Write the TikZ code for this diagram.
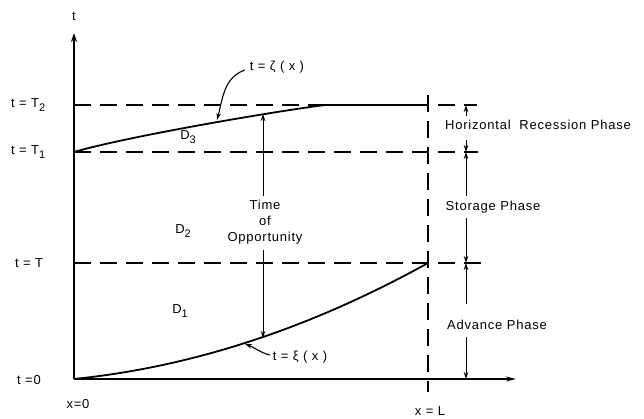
\documentclass[tikz,border=0pt]{standalone}
\usepackage{fontspec}
\setmainfont{Liberation Sans}[LetterSpace=6]
\usetikzlibrary{arrows.meta}
\newcommand{\sbs}[1]{\raisebox{-0.6ex}{\fontsize{11}{13}\selectfont #1}}
\begin{document}
\begin{tikzpicture}[x=1pt,y=-1pt,
  lab/.style={font=\fontsize{13}{16}\selectfont, inner sep=1pt},
  axisline/.style={line width=2.4pt},
  dashline/.style={line width=1.6pt, dash pattern=on 17pt off 9pt},
  curve/.style={line width=1.8pt},
  thinarrow/.style={line width=0.9pt, -{Stealth[length=7pt,width=4.5pt]}},
  tip/.style={-{Stealth[length=7pt,width=4.5pt]}}]
\useasboundingbox (0,0) rectangle (644,418);
% key coordinates
\coordinate (O) at (74,379);
\coordinate (ytop) at (74,33);
\coordinate (xend) at (516,379);
\coordinate (T2a) at (74,105);
\coordinate (T2b) at (477,105);
\coordinate (T1a) at (74,152);
\coordinate (T1b) at (478,152);
\coordinate (Ta) at (74,263);
\coordinate (Tb) at (486,263);
\coordinate (Ltop) at (428,95);
\coordinate (Lbot) at (428,392);
\coordinate (Z1) at (325,105);
\coordinate (ZL) at (428,105);
\coordinate (XL) at (428,263);
% dashed lines
\draw[dashline] (T2a) -- (T2b);
\draw[dashline] (T1a) -- (T1b);
\draw[dashline] (Ta) -- (Tb);
\draw[dashline] (Ltop) -- (Lbot);
% axes
\draw[axisline, -{Stealth[length=9pt,width=6pt]}] (O) -- (ytop);
\draw[line width=1.6pt, -{Stealth[length=10pt,width=5pt]}] (O) -- (xend);
% curves
\draw[curve] (T1a) .. controls (125,137) and (270,112) .. (Z1) -- (ZL);
\draw[curve] (O) .. controls (192,367) and (310,328.4) .. (XL);
% axis labels
\node[lab] (tlab) at (74,16) {t};
\node[lab, anchor=west] (lT2) at (10,105) {t = T\sbs{2}};
\node[lab, anchor=west] (lT1) at (10,152) {t = T\sbs{1}};
\node[lab, anchor=west] (lT) at (14,263) {t = T};
\node[lab, anchor=west] (l0) at (16,380) {t =0};
\node[lab] (x0) at (78,404) {x=0};
\node[lab] (xL) at (430,411) {x = L};
% regions
\node[lab] (D3) at (188,137) {D\sbs{3}};
\node[lab] (D2) at (183,231) {D\sbs{2}};
\node[lab] (D1) at (180,311) {D\sbs{1}};
% curve labels
\node[lab] (zeta) at (277,67) {t = ζ ( x )};
\coordinate (zetapt) at (217,120);
\draw[line width=1.1pt, tip] (zeta.west) ++(-4,3) coordinate (zs) (zs) to[out=200,in=75] (zetapt);
\node[lab] (xi) at (300,357) {t = ξ ( x )};
\coordinate (xipt) at (245,344);
\draw[line width=1.1pt, tip] (xi.west) ++(-2,-2) coordinate (xs) (xs) to[out=165,in=-20] (xipt);
% time of opportunity
\node[lab, align=center] (opp) at (265,222) {Time\\[0pt]of\\[0pt]Opportunity};
\coordinate (oppup) at (263,114);
\coordinate (oppdn) at (263,338);
\draw[thinarrow] (263,196) -- (oppup);
\draw[thinarrow] (263,250) -- (oppdn);
% phases
\node[lab] (hrp) at (538,125) {Horizontal\ \ Recession Phase};
\node[lab] (stp) at (493,207) {Storage Phase};
\node[lab] (adv) at (497,325) {Advance Phase};
\coordinate (pT2) at (466,105);
\coordinate (pT1) at (466,152);
\coordinate (pT) at (466,263);
\coordinate (p0) at (466,379);
\draw[thinarrow] (466,116) -- (pT2);
\draw[thinarrow] (466,140) -- (pT1);
\draw[thinarrow] (466,196) -- (pT1);
\draw[thinarrow] (466,218) -- (pT);
\draw[thinarrow] (466,304) -- (pT);
\draw[thinarrow] (466,337) -- (p0);
\end{tikzpicture}
\end{document}
